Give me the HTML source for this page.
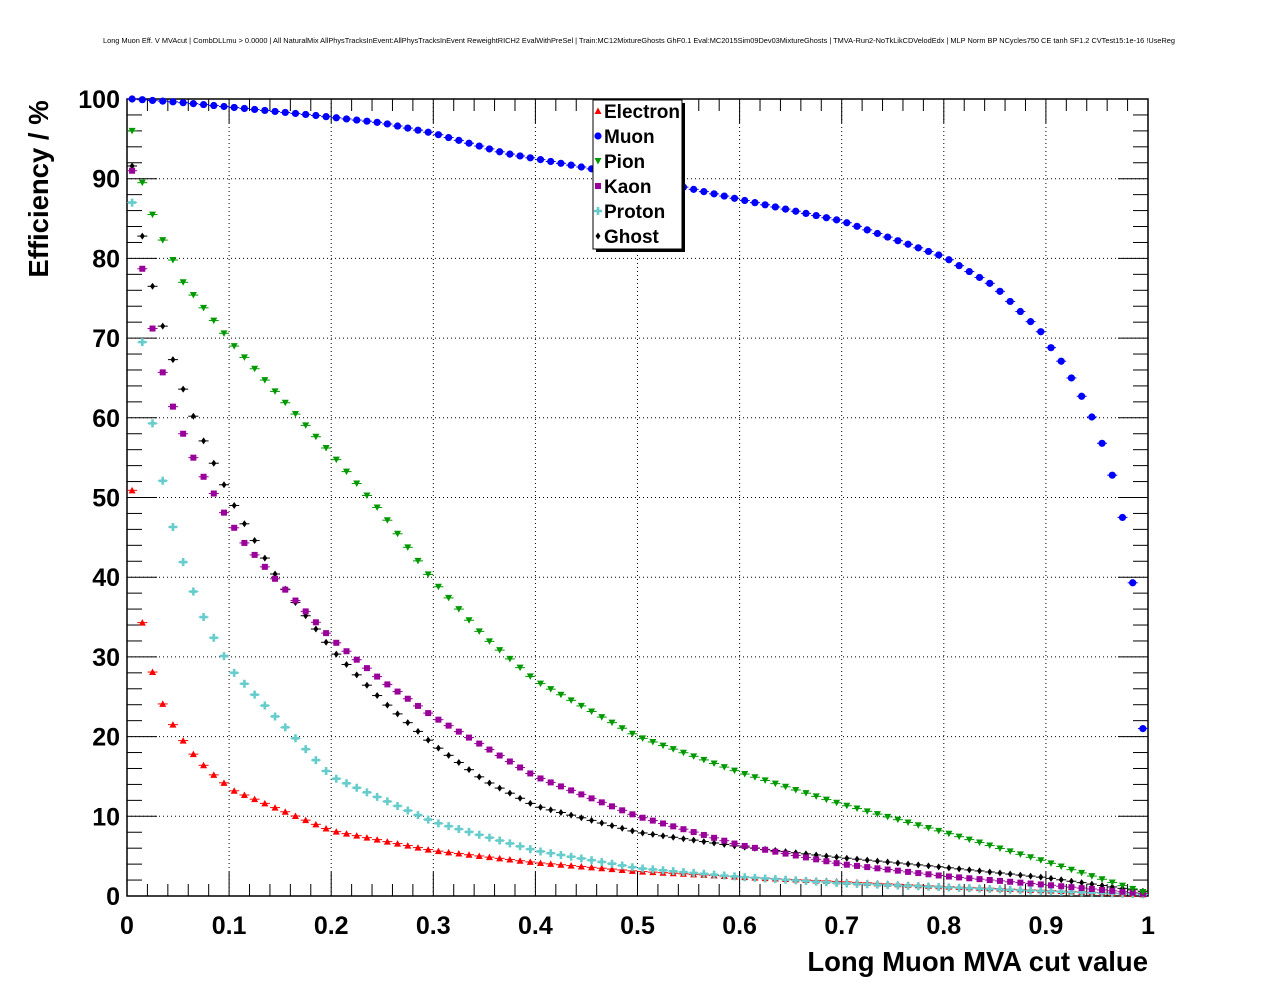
<!DOCTYPE html>
<html><head><meta charset="utf-8"><style>
html,body{margin:0;padding:0;background:#fff}
svg{display:block}
text{font-family:"Liberation Sans",Arial,sans-serif}
</style></head><body>
<svg id="s" width="1276" height="996" viewBox="0 0 1276 996" xmlns="http://www.w3.org/2000/svg">
<rect width="1276" height="996" fill="#fff"/>
<text x="103" y="43" font-size="7.2" textLength="1072" lengthAdjust="spacingAndGlyphs" fill="#000">Long Muon Eff. V MVAcut | CombDLLmu &gt; 0.0000 | All NaturalMix AllPhysTracksInEvent:AllPhysTracksInEvent ReweightRICH2 EvalWithPreSel | Train:MC12MixtureGhosts GhF0.1 Eval:MC2015Sim09Dev03MixtureGhosts | TMVA-Run2-NoTkLikCDVelodEdx | MLP Norm BP NCycles750 CE tanh SF1.2 CVTest15:1e-16 !UseReg</text>
<g id="g"></g>
<text x="1148" y="971" font-size="27.5" font-weight="bold" text-anchor="end">Long Muon MVA cut value</text>
<text transform="translate(48,189) rotate(-90)" font-size="27.5" font-weight="bold" text-anchor="middle">Efficiency / %</text>
</svg>
<script>
var g=document.getElementById("g");
var X0=127,X1=1148,Y0=896,Y1=99;
function X(v){return X0+(X1-X0)*v}
function Y(v){return Y0-(Y0-Y1)*v/100}
var h="";
for(var i=1;i<10;i++){h+='<line x1="'+X(i/10)+'" y1="'+Y1+'" x2="'+X(i/10)+'" y2="'+Y0+'" stroke="#000" stroke-width="1" stroke-dasharray="1,3"/>';}
for(var j=1;j<10;j++){h+='<line x1="'+X0+'" y1="'+Y(j*10)+'" x2="'+X1+'" y2="'+Y(j*10)+'" stroke="#000" stroke-width="1" stroke-dasharray="1,3"/>';}
for(var i=0;i<=50;i++){var L=(i%5==0)?24:12,x=X(i/50);
h+='<line x1="'+x+'" y1="'+Y0+'" x2="'+x+'" y2="'+(Y0-L)+'" stroke="#000"/>';
h+='<line x1="'+x+'" y1="'+Y1+'" x2="'+x+'" y2="'+(Y1+L)+'" stroke="#000"/>';}
for(var j=0;j<=50;j++){var L=(j%5==0)?30:15,y=Y(j*2);
h+='<line x1="'+X0+'" y1="'+y+'" x2="'+(X0+L)+'" y2="'+y+'" stroke="#000"/>';
h+='<line x1="'+X1+'" y1="'+y+'" x2="'+(X1-L)+'" y2="'+y+'" stroke="#000"/>';}
h+='<rect x="'+X0+'" y="'+Y1+'" width="'+(X1-X0)+'" height="'+(Y0-Y1)+'" fill="none" stroke="#000" stroke-width="1.5"/>';
var xl=["0","0.1","0.2","0.3","0.4","0.5","0.6","0.7","0.8","0.9","1"];
for(var i=0;i<=10;i++)h+='<text x="'+X(i/10)+'" y="934" font-size="25" font-weight="bold" text-anchor="middle">'+xl[i]+'</text>';
for(var j=0;j<=10;j++)h+='<text x="120" y="'+(Y(j*10)+9)+'" font-size="25" font-weight="bold" text-anchor="end">'+(j*10)+'</text>';
function interp(t,x){if(x<=t[0][0])return t[0][1];for(var k=0;k<t.length-1;k++){if(x<=t[k+1][0]){var a=t[k],b=t[k+1];return a[1]+(b[1]-a[1])*(x-a[0])/(b[0]-a[0]);}}return t[t.length-1][1];}
var S={
muon:[[0.005,100],[0.05,99.6],[0.1,99],[0.18,98],[0.25,97],[0.3,95.7],[0.37,93.2],[0.5,90.2],[0.6,87.4],[0.7,84.7],[0.8,80.2],[0.85,76.5],[0.895,70.8],[0.905,68.8],[0.915,67.1],[0.925,65],[0.935,62.7],[0.945,60.1],[0.955,56.8],[0.965,52.8],[0.975,47.5],[0.985,39.3],[0.995,21]],
pion:[[0.005,96],[0.015,89.5],[0.025,85.5],[0.035,82.3],[0.045,79.8],[0.055,77],[0.105,69],[0.15,62.6],[0.2,55.5],[0.25,48],[0.3,39.5],[0.35,32.5],[0.4,27],[0.5,20],[0.6,15.5],[0.7,11.5],[0.8,8],[0.9,4.3],[0.995,0.5]],
kaon:[[0.005,91],[0.015,78.7],[0.025,71.2],[0.035,65.7],[0.045,61.4],[0.055,58],[0.065,55],[0.075,52.6],[0.085,50.5],[0.095,48.1],[0.105,46.2],[0.115,44.3],[0.125,42.8],[0.135,41.3],[0.145,39.8],[0.2,32.3],[0.25,27],[0.3,22.5],[0.4,15],[0.5,10],[0.6,6.4],[0.7,4],[0.8,2.5],[0.9,1.4],[0.995,0.3]],
ghost:[[0.005,91.6],[0.015,82.8],[0.025,76.5],[0.035,71.5],[0.045,67.3],[0.055,63.6],[0.065,60.2],[0.075,57.1],[0.085,54.3],[0.095,51.6],[0.105,49],[0.115,46.7],[0.125,44.6],[0.135,42.4],[0.145,40.4],[0.155,38.5],[0.2,31],[0.25,24.5],[0.3,19],[0.35,14.5],[0.4,11.3],[0.5,8],[0.6,6.2],[0.7,4.8],[0.8,3.6],[0.9,2.3],[0.995,0.6]],
proton:[[0.005,87],[0.015,69.5],[0.025,59.3],[0.035,52.1],[0.045,46.3],[0.055,41.9],[0.065,38.2],[0.075,35],[0.085,32.4],[0.095,30.1],[0.105,28],[0.2,15],[0.3,9.3],[0.4,5.7],[0.5,3.5],[0.6,2.4],[0.7,1.6],[0.8,1.1],[0.9,0.6],[0.995,0.2]],
electron:[[0.005,50.9],[0.015,34.3],[0.025,28.1],[0.035,24.1],[0.045,21.5],[0.055,19.5],[0.065,17.8],[0.075,16.4],[0.085,15.2],[0.095,14.2],[0.105,13.2],[0.2,8.2],[0.3,5.7],[0.4,4.2],[0.5,3.1],[0.6,2.4],[0.7,1.8],[0.8,1.2],[0.9,0.7],[0.995,0.2]]};
function mk(type,x,y,c){
 if(type=="tri")return '<polygon points="'+(x-3.5)+','+(y+3)+' '+(x+3.5)+','+(y+3)+' '+x+','+(y-3.5)+'" fill="'+c+'"/>';
 if(type=="circ")return '<circle cx="'+x+'" cy="'+y+'" r="3.6" fill="'+c+'"/>';
 if(type=="dtri")return '<polygon points="'+(x-3.5)+','+(y-3)+' '+(x+3.5)+','+(y-3)+' '+x+','+(y+3.5)+'" fill="'+c+'"/>';
 if(type=="sq")return '<rect x="'+(x-3)+'" y="'+(y-3)+'" width="6" height="6" fill="'+c+'"/>';
 if(type=="plus")return '<path d="M'+(x-4)+' '+y+'h8M'+x+' '+(y-4)+'v8" stroke="'+c+'" stroke-width="2.6"/>';
 if(type=="dia")return '<polygon points="'+(x-2.5)+','+y+' '+x+','+(y-3.5)+' '+(x+2.5)+','+y+' '+x+','+(y+3.5)+'" fill="'+c+'"/>';
}
var order=[["electron","tri","#ff0000"],["proton","plus","#66cccc"],["ghost","dia","#000"],["kaon","sq","#990099"],["pion","dtri","#009900"],["muon","circ","#0000ff"]];
order.forEach(function(o){var t=S[o[0]];
 for(var i=0;i<100;i++){var v=(i+0.5)/100,val=interp(t,v),x=X(v),y=Y(val);
  h+='<line x1="'+(x-5)+'" y1="'+y+'" x2="'+(x+5)+'" y2="'+y+'" stroke="'+o[2]+'" stroke-width="1"/>';
  h+=mk(o[1],x,y,o[2]);}
});
h+='<rect x="596" y="103" width="89" height="149" fill="#000"/>';
h+='<rect x="593" y="100" width="89" height="149" fill="#fff" stroke="#000" stroke-width="1"/>';
var names=[["Electron","tri","#ff0000"],["Muon","circ","#0000ff"],["Pion","dtri","#009900"],["Kaon","sq","#990099"],["Proton","plus","#66cccc"],["Ghost","dia","#000"]];
names.forEach(function(n,k){var y=111+k*25;h+=mk(n[1],598,y,n[2]);h+='<text x="604" y="'+(y+7)+'" font-size="19" font-weight="bold">'+n[0]+'</text>';});
g.innerHTML=h;
</script>
</body></html>
